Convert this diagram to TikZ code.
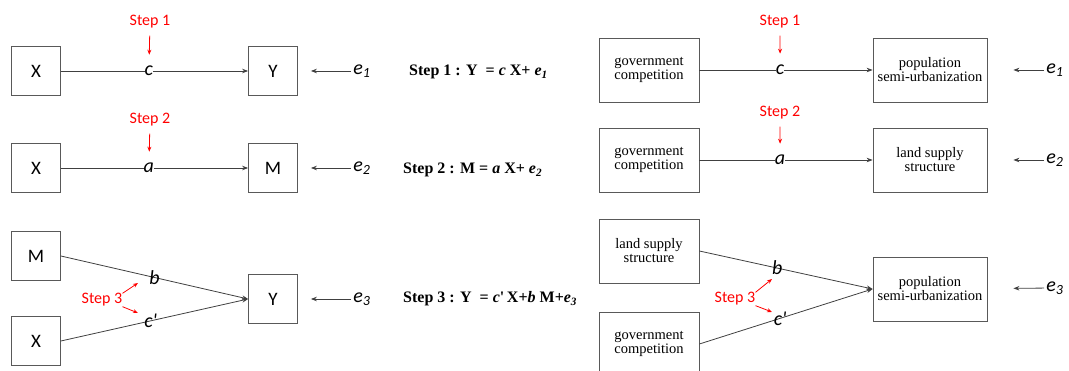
\documentclass[tikz,border=0pt]{standalone}
\usepackage{fontspec}
\setmainfont{Liberation Serif}
\newfontfamily\calibri{Carlito}
\usetikzlibrary{arrows.meta}

\begin{document}
\begin{tikzpicture}[x=1pt, y=1pt, >={Stealth[length=6pt,width=4.5pt]},
  var/.style={draw=black!65, line width=0.8pt, minimum width=49pt, minimum height=49pt, font=\calibri\fontsize{19}{19}\selectfont},
  box/.style={draw=black!65, line width=0.8pt, minimum width=100pt, minimum height=64pt, inner sep=1pt, align=center, font=\fontsize{14.5}{14}\selectfont},
  widebox/.style={box, minimum width=114pt},
  coef/.style={font=\calibri\itshape\fontsize{20}{20}\selectfont, inner sep=0pt},
  steplabel/.style={text=red, inner sep=0pt, font=\calibri\fontsize{16}{16}\selectfont},
  eq/.style={anchor=west, inner sep=0pt, font=\bfseries\fontsize{16}{16}\selectfont},
  link/.style={->, draw=black!75, line width=0.8pt},
  redarrow/.style={->, red, line width=0.8pt, >={Stealth[length=5pt,width=4pt]}}]
\useasboundingbox (0,0) rectangle (1069,371);

% basic mediation model
\node (X1) [var] at (36,300) {X};
\node (Y1) [var] at (273,300) {Y};
\node (e1) [coef] at (362,300) {e\textsubscript{1}};
\draw[link] (X1) -- node[coef, fill=white, pos=0.47] (c1) {c} (Y1);
\draw[link, shorten <=2pt, shorten >=13pt] (e1) -- (Y1);
\node (s1) [steplabel] at (150,349) {Step 1};
\draw[redarrow, shorten <=7pt, shorten >=11pt] (s1) -- (c1);

\node (X2) [var] at (36,203) {X};
\node (M2) [var] at (273,203) {M};
\node (e2) [coef] at (362,203) {e\textsubscript{2}};
\draw[link] (X2) -- node[coef, fill=white, pos=0.47] (a2) {a} (M2);
\draw[link, shorten <=2pt, shorten >=13pt] (e2) -- (M2);
\node (s2) [steplabel] at (150,251) {Step 2};
\draw[redarrow, shorten <=7pt, shorten >=11pt] (s2) -- (a2);

\node (M3) [var] at (36,115) {M};
\node (X3) [var] at (36,30) {X};
\node (Y3) [var] at (273,72) {Y};
\node (e3) [coef] at (362,72) {e\textsubscript{3}};
\draw[link] (M3.east) -- node[coef, pos=0.5] (b3) {b} (Y3.west);
\draw[link] (X3.east) -- node[coef, pos=0.48] (cc3) {c'} (Y3.west);
\draw[link, shorten <=2pt, shorten >=13pt] (e3) -- (Y3);
\node (s3) [steplabel] at (102,71) {Step 3};
\coordinate (tb3) at (138,88);
\coordinate (tc3) at (138,58);
\draw[redarrow] (s3.north east) -- (tb3);
\draw[redarrow] (s3.south east) -- (tc3);

% equations
\node (eq1) [eq] at (409,299) {Step 1 : Y\ \ = \textit{c} X+ \textit{e}\textsubscript{\textit{1}}};
\node (eq2) [eq] at (403,201) {Step 2 : M = \textit{a} X+ \textit{e}\textsubscript{\textit{2}}};
\node (eq3) [eq] at (403,72) {Step 3 : Y\ \ = \textit{c}\textquotesingle\,X+\textit{b} M+\textit{e}\textsubscript{\textit{3}}};

% applied model
\node (G1) [box] at (649,301) {government\\competition};
\node (P1) [widebox] at (930,301) {population\\semi-urbanization};
\node (f1) [coef] at (1055,301) {e\textsubscript{1}};
\draw[link] (G1) -- node[coef, fill=white, pos=0.466] (c4) {c} (P1);
\draw[link, shorten <=2pt, shorten >=26pt] (f1) -- (P1);
\node (s4) [steplabel] at (780,349) {Step 1};
\draw[redarrow, shorten <=7pt, shorten >=11pt] (s4) -- (c4);

\node (G2) [box] at (649,211) {government\\competition};
\node (L2) [widebox] at (930,211) {land supply\\structure};
\node (f2) [coef] at (1055,211) {e\textsubscript{2}};
\draw[link] (G2) -- node[coef, fill=white, pos=0.466] (a5) {a} (L2);
\draw[link, shorten <=2pt, shorten >=26pt] (f2) -- (L2);
\node (s5) [steplabel] at (780,258) {Step 2};
\draw[redarrow, shorten <=7pt, shorten >=11pt] (s5) -- (a5);

\node (L3) [box] at (649,120) {land supply\\structure};
\node (G3) [box] at (649,27) {government\\competition};
\node (P3) [widebox] at (930,82) {population\\semi-urbanization};
\node (f3) [coef] at (1055,83) {e\textsubscript{3}};
\draw[link] (L3.east) -- node[coef, pos=0.45] (b6) {b} (P3.west);
\draw[link] (G3.east) -- node[coef, pos=0.466] (cc6) {c'} (P3.west);
\draw[link, shorten <=2pt, shorten >=26pt] (f3) -- (P3);
\node (s6) [steplabel] at (735,72) {Step 3};
\coordinate (tb6) at (772,92);
\coordinate (tc6) at (772,59);
\draw[redarrow] (s6.north east) -- (tb6);
\draw[redarrow] (s6.south east) -- (tc6);
\end{tikzpicture}
\end{document}
